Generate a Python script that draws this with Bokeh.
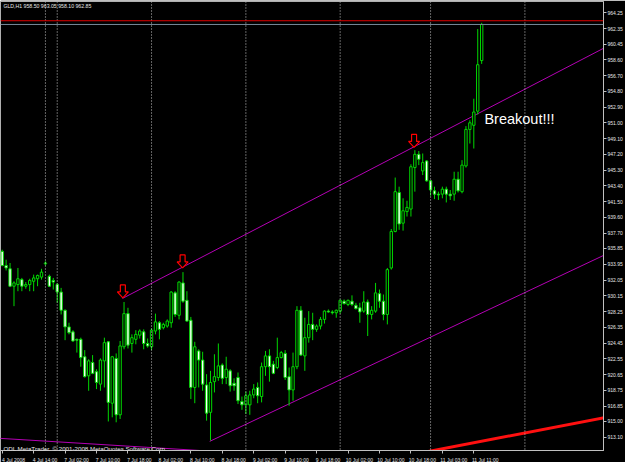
from bokeh.plotting import figure
from bokeh.models import FixedTicker, Range1d, Span, Label, ColumnDataSource
from bokeh.embed import file_html
from bokeh.resources import INLINE

# ---------------- data (GLD, H1 candles) ----------------
opens = [935.5, 933.8, 933.4, 931.3, 931.5, 932.1, 931.3, 931.5, 931.9, 932.2,
         932.4, 934.0, 932.5, 932.0, 931.5, 930.6, 928.4, 926.4, 925.8, 924.9,
         924.9, 922.8, 920.5, 922.1, 921.0, 919.5, 922.3, 924.6, 917.2, 922.6,
         915.8, 924.0, 928.0, 924.4, 924.9, 925.4, 925.8, 924.4, 924.0, 925.9,
         926.9, 926.3, 926.5, 926.9, 930.5, 927.8, 931.7, 929.6, 927.2, 919.1,
         923.5, 922.4, 919.4, 916.1, 919.8, 920.3, 921.8, 920.3, 921.1, 919.6,
         920.3, 917.4, 917.0, 917.0, 918.2, 919.1, 918.0, 921.6, 922.9, 921.9,
         921.5, 922.7, 923.2, 920.4, 918.8, 921.6, 928.4, 922.9, 925.1, 926.7,
         926.1, 926.5, 927.3, 928.3, 928.2, 928.1, 928.3, 929.5, 929.1, 929.5,
         929.0, 928.7, 928.3, 929.4, 927.9, 928.3, 930.4, 929.5, 927.9, 933.5,
         937.9, 942.6, 938.9, 940.3, 940.6, 945.6, 947.2, 945.2, 946.4, 944.0,
         942.8, 942.4, 942.4, 943.0, 942.4, 942.4, 944.2, 942.7, 945.8, 950.2,
         950.7, 952.4, 958.5]
highs = [935.7, 934.5, 934.1, 931.9, 933.5, 932.3, 931.8, 932.2, 932.7, 932.7,
         933.4, 934.3, 932.7, 932.3, 931.7, 931.1, 928.5, 926.9, 926.0, 925.0,
         925.1, 923.6, 922.5, 923.0, 921.3, 922.6, 925.1, 924.7, 922.9, 923.2,
         924.7, 929.4, 928.7, 925.5, 926.0, 926.1, 926.1, 925.0, 926.2, 928.0,
         927.1, 926.9, 927.3, 930.7, 930.7, 931.9, 933.0, 930.7, 927.6, 924.6,
         923.7, 923.4, 920.7, 921.1, 923.1, 924.4, 922.0, 922.8, 921.3, 920.2,
         920.9, 918.0, 918.6, 918.7, 919.5, 919.7, 922.1, 923.5, 923.7, 922.3,
         925.1, 923.5, 923.6, 921.5, 923.3, 928.9, 928.9, 927.5, 928.3, 928.1,
         926.7, 927.6, 928.4, 928.5, 928.4, 928.5, 929.7, 929.7, 929.7, 930.2,
         929.3, 929.3, 930.7, 929.7, 928.9, 931.7, 930.9, 930.3, 933.5, 938.2,
         944.4, 943.3, 941.9, 941.6, 946.0, 947.7, 947.6, 947.3, 946.5, 944.1,
         943.3, 942.7, 943.3, 943.3, 942.9, 945.1, 945.1, 946.5, 950.6, 951.3,
         953.9, 962.3, 963.05]
lows = [933.7, 933.2, 931.2, 928.9, 930.7, 930.7, 931.0, 930.7, 930.7, 931.3,
        932.1, 933.8, 931.2, 930.9, 929.3, 927.9, 924.8, 925.5, 924.6, 923.3,
        921.6, 920.3, 918.7, 920.7, 918.9, 918.7, 919.1, 915.0, 915.5, 914.9,
        915.3, 923.7, 923.8, 923.3, 924.3, 925.0, 923.7, 923.9, 923.6, 925.5,
        924.9, 926.1, 926.3, 926.3, 927.6, 927.3, 929.3, 927.0, 917.7, 917.2,
        919.1, 918.7, 915.1, 912.7, 918.5, 919.9, 919.5, 919.5, 918.6, 918.7,
        917.1, 916.4, 915.9, 915.8, 917.8, 917.2, 917.3, 920.5, 919.8, 920.7,
        921.3, 922.6, 920.0, 916.9, 917.5, 921.3, 922.9, 921.1, 924.5, 924.8,
        925.8, 926.1, 926.8, 928.1, 927.9, 927.5, 928.0, 929.1, 928.9, 928.9,
        928.5, 926.9, 928.1, 925.3, 927.3, 928.1, 928.7, 927.2, 926.7, 933.3,
        937.8, 938.1, 938.0, 939.7, 939.7, 942.7, 945.9, 944.7, 943.9, 942.2,
        941.8, 941.7, 941.9, 941.4, 941.7, 941.6, 942.6, 942.5, 945.6, 948.5,
        947.9, 952.0, 958.1]
closes = [933.8, 933.5, 931.3, 931.7, 932.2, 931.3, 931.5, 932.0, 932.3, 932.6,
          933.0, 934.1, 931.3, 931.8, 930.6, 928.4, 926.4, 925.7, 924.7, 924.8,
          922.7, 920.4, 922.3, 920.8, 919.7, 922.4, 924.5, 917.3, 922.8, 915.8,
          924.1, 928.0, 924.2, 925.1, 925.5, 925.9, 924.4, 924.1, 926.0, 927.0,
          926.1, 926.7, 927.1, 930.6, 927.9, 931.8, 929.5, 927.1, 919.1, 924.0,
          922.4, 919.5, 916.0, 919.7, 920.4, 921.7, 920.2, 921.3, 919.3, 919.3,
          917.5, 917.0, 918.1, 918.2, 918.9, 918.1, 921.6, 922.9, 921.6, 920.8,
          922.7, 923.3, 920.3, 918.8, 921.6, 928.4, 923.0, 925.1, 926.7, 926.1,
          926.5, 927.3, 928.3, 928.2, 928.1, 928.4, 929.6, 929.2, 929.6, 929.1,
          928.6, 928.2, 929.4, 927.9, 928.4, 930.5, 929.5, 927.9, 933.3, 937.9,
          942.7, 938.8, 940.4, 940.8, 945.7, 947.2, 946.6, 946.2, 944.0, 942.9,
          942.4, 942.3, 943.0, 942.4, 942.2, 944.2, 942.8, 945.9, 950.2, 951.0,
          952.3, 958.0, 962.85]
bar_index = list(range(len(opens)))

# time axis: bar index of each label, and its text
x_tick_bars = [0, 8, 16, 24, 32, 40, 48, 56, 64, 72, 80, 88, 96, 104, 112, 120]
x_tick_labels = ["4 Jul 2008", "4 Jul 14:00", "7 Jul 02:00", "7 Jul 10:00", "7 Jul 18:00",
                 "8 Jul 02:00", "8 Jul 10:00", "8 Jul 18:00", "9 Jul 02:00", "9 Jul 10:00",
                 "9 Jul 18:00", "10 Jul 02:00", "10 Jul 10:00", "10 Jul 18:00",
                 "11 Jul 03:00", "11 Jul 11:00"]
separator_bars = [11, 14, 38, 62, 86, 109, 133]

# price axis
y_tick_values = [911.20, 913.10, 915.00, 916.85, 918.75, 920.65, 922.55, 924.45, 926.35,
                 928.25, 930.15, 932.05, 933.95, 935.85, 937.70, 939.60, 941.50, 943.40,
                 945.30, 947.20, 949.10, 951.00, 952.90, 954.80, 956.70, 958.60, 960.45,
                 962.35, 964.25]
y_tick_labels = ["%.2f" % v for v in y_tick_values]

red_level = 963.30
bid_level = 962.85

# trend lines: two anchors (bar index, price) each
upper_channel = ([30.6, 144.6], [929.83, 957.91])
lower_channel = ([52.8, 129.3], [912.60, 929.71])
red_trend = ([105.9, 149.7], [911.15, 915.13])
old_trend = ([-0.43, 62.4], [912.96, 911.15])

# red arrows (tip: bar index, price)
arrow_bars = [30.7, 45.9, 104.8]
arrow_prices = [929.89, 933.51, 948.03]

# ---------------- figure ----------------
FW, FH = 603, 449
X0, X1 = -0.433, 153.0
Y0, Y1 = 911.50, 965.62
BAR_PER_PX = (X1 - X0) / FW
PRICE_PER_PX = (Y1 - Y0) / FH

p = figure(frame_width=FW, frame_height=FH, x_range=Range1d(X0, X1), y_range=Range1d(Y0, Y1),
           output_backend="svg", toolbar_location=None, y_axis_location="right",
           background_fill_color="black", border_fill_color="black",
           min_border=0, min_border_top=1, min_border_left=0, min_border_right=0,
           min_border_bottom=0)
p.grid.visible = False
p.outline_line_color = "#b0b0b0"
p.outline_line_width = 1

FONT = "Liberation Sans"
AX_COL = "#c0c0c0"
TXT_COL = "#e6e6e6"

xa = p.xaxis[0]
LBL_OFF = 2.9
xa.ticker = FixedTicker(ticks=[b + LBL_OFF for b in x_tick_bars], minor_ticks=x_tick_bars)
xa.major_label_overrides = {b + LBL_OFF: t for b, t in zip(x_tick_bars, x_tick_labels)}
xa.major_tick_out = 0
xa.major_tick_in = 0
xa.minor_tick_out = 3
xa.minor_tick_in = 0
xa.major_label_standoff = 3
xa.axis_line_color = AX_COL
xa.minor_tick_line_color = AX_COL
xa.major_label_text_color = TXT_COL
xa.major_label_text_font = FONT
xa.major_label_text_font_size = "5px"

ya = p.yaxis[0]
ya.ticker = FixedTicker(ticks=y_tick_values, minor_ticks=[])
ya.major_label_overrides = {v: t for v, t in zip(y_tick_values, y_tick_labels)}
ya.major_tick_out = 3
ya.major_tick_in = 0
ya.minor_tick_out = 0
ya.minor_tick_in = 0
ya.major_label_standoff = 1
ya.axis_line_color = AX_COL
ya.major_tick_line_color = AX_COL
ya.major_label_text_color = TXT_COL
ya.major_label_text_font = FONT
ya.major_label_text_font_size = "5px"

# period separators
for b in separator_bars:
    p.add_layout(Span(location=b, dimension="height", line_color="#c8c8c8",
                      line_dash="1 2", line_width=1))

# horizontal levels
p.add_layout(Span(location=bid_level, dimension="width", line_color="#778899", line_width=1))
p.add_layout(Span(location=red_level, dimension="width", line_color="#e00000", line_width=1))


def ray(anchor, x_from, x_to):
    (xa0, xa1), (ya0, ya1) = anchor
    k = (ya1 - ya0) / (xa1 - xa0)
    return [x_from, x_to], [ya0 + k * (x_from - xa0), ya0 + k * (x_to - xa0)]


MAG = "#b400b4"
for anc in (upper_channel, lower_channel):
    xs, ys = ray(anc, anc[0][0], 170)
    p.line(xs, ys, line_color=MAG, line_width=1)
xs, ys = ray(old_trend, -2, 80)
p.line(xs, ys, line_color=MAG, line_width=1)
xs, ys = ray(red_trend, 95, 170)
p.line(xs, ys, line_color="#ff1010", line_width=3)

# candles
GREEN = "#00d800"
body_top = [max(o, c) for o, c in zip(opens, closes)]
body_bot = [min(o, c) for o, c in zip(opens, closes)]
fills = ["white" if c < o else "black" for o, c in zip(opens, closes)]
src = ColumnDataSource(dict(x=bar_index, o=opens, h=highs, l=lows, c=closes,
                            top=body_top, bot=body_bot, fill=fills))
p.segment(x0="x", y0="l", x1="x", y1="h", source=src, line_color=GREEN, line_width=1)
p.vbar(x="x", width=0.6, top="top", bottom="bot", fill_color="fill",
       line_color=GREEN, line_width=1, source=src)

# red hollow arrows
shape = [(0, 0), (-5.5, 6), (-2.5, 6), (-2.5, 13), (2.5, 13), (2.5, 6), (5.5, 6)]
axs = [[bx + dx * BAR_PER_PX for dx, dy in shape] for bx in arrow_bars]
ays = [[py + dy * PRICE_PER_PX for dx, dy in shape] for py in arrow_prices]
p.patches(axs, ays, fill_color="black", line_color="#ff0000", line_width=1.2)

# texts
p.add_layout(Label(x=0.3, y=965.45, text="GLD,H1  958.50 963.05 958.10 962.85",
                   text_color=TXT_COL, text_font=FONT, text_font_size="5.2px",
                   text_baseline="top"))
p.add_layout(Label(x=0.3, y=911.75, text="ODL MetaTrader, \u00a9 2001-2008 MetaQuotes Software Corp.",
                   text_color=TXT_COL, text_font=FONT, text_font_size="6.2px",
                   text_baseline="alphabetic"))
p.add_layout(Label(x=122.7, y=951.4, text="Breakout!!!", text_color="white",
                   text_font=FONT, text_font_size="14.5px", text_baseline="alphabetic"))

# level labels on the price scale
p.add_layout(Label(x=X1 + 3.5 * BAR_PER_PX, y=red_level, text="%.2f" % red_level,
                   text_color="white", text_font=FONT, text_font_size="5px",
                   text_baseline="middle", background_fill_color="#e00000"))
p.add_layout(Label(x=X1 + 3.5 * BAR_PER_PX, y=bid_level - 0.55, text="%.2f" % bid_level,
                   text_color="black", text_font=FONT, text_font_size="5px",
                   text_baseline="middle", background_fill_color="#d0d0d0"))

open("out.html", "w").write(file_html(p, INLINE))
